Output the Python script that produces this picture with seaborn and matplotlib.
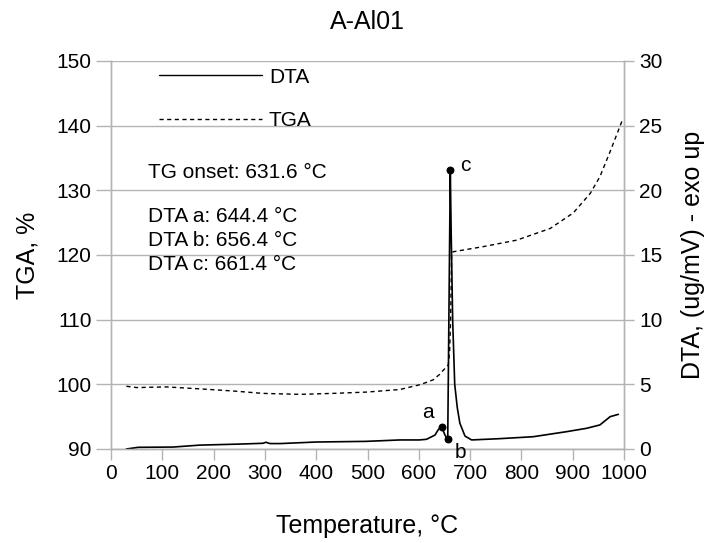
import matplotlib
matplotlib.use("Agg")
import matplotlib.pyplot as plt
import seaborn as sns
import pandas as pd
from matplotlib.lines import Line2D

# ---- data ----
dta_temp = [30, 53, 121, 173, 250, 296, 302, 310, 330, 400, 497, 563, 601, 615, 631.6, 638, 644.4, 651, 656.4,
            661.4, 663, 666, 670, 675, 680, 690, 703, 758, 823, 888, 927, 953, 973, 989]
dta_val = [0.0, 0.13, 0.15, 0.3, 0.38, 0.44, 0.52, 0.42, 0.42, 0.54, 0.59, 0.7, 0.7, 0.75, 1.08, 1.5, 1.72, 1.08, 0.75,
           21.6, 17.0, 10.0, 5.0, 3.2, 2.0, 1.0, 0.7, 0.8, 0.95, 1.34, 1.6, 1.86, 2.5, 2.68]

tga_temp = [30, 50, 108, 173, 238, 296, 368, 433, 498, 563, 600, 615, 628, 640, 648, 657.5, 660, 662, 664,
            667, 726, 791, 856, 901, 934, 953, 974, 996]
tga_val = [99.7, 99.5, 99.6, 99.3, 98.97, 98.6, 98.45, 98.6, 98.8, 99.2, 99.9, 100.3, 100.7, 101.5, 102.2, 103.0,
           105.0, 110.0, 120.3, 120.5, 121.3, 122.3, 124.1, 126.5, 129.5, 132.1, 136.2, 140.7]

peak_labels = ["a", "b", "c"]
peak_temp = [644.4, 656.4, 661.4]
peak_dta = [1.72, 0.75, 21.6]

title = "A-Al01"
info_lines = ["TG onset: 631.6 °C", "DTA a: 644.4 °C", "DTA b: 656.4 °C", "DTA c: 661.4 °C"]

# ---- style ----
sns.set_style("white")
plt.rcParams['font.family'] = ['Liberation Sans', 'DejaVu Sans']
plt.rcParams['text.color'] = 'black'
plt.rcParams['axes.labelcolor'] = 'black'
plt.rcParams['xtick.labelcolor'] = 'black'
plt.rcParams['ytick.labelcolor'] = 'black'

W, H = 707, 543
fig = plt.figure(figsize=(W / 100, H / 100), dpi=100)
ax = fig.add_axes([111 / W, 1 - 449 / H, (624 - 111) / W, (449 - 61) / H])
ax2 = ax.twinx()

grid_c = "#b3b3b3"
dash = (0, (3, 2.5))

tga_df = pd.DataFrame({"T": tga_temp, "TGA": tga_val})
dta_df = pd.DataFrame({"T": dta_temp, "DTA": dta_val})

sns.lineplot(data=tga_df, x="T", y="TGA", ax=ax, color="black", lw=1.0, sort=False,
             linestyle=dash, estimator=None)
sns.lineplot(data=dta_df, x="T", y="DTA", ax=ax2, color="black", lw=1.2, sort=False, estimator=None)
ax2.scatter(peak_temp, peak_dta, s=22, color="black", zorder=5)

label_offsets = {"a": (-10, 10), "b": (9.4, -9.4), "c": (11, 3)}
for lab, t, v in zip(peak_labels, peak_temp, peak_dta):
    dx, dy = label_offsets[lab]
    ax2.annotate(lab, (t, v), xytext=(dx, dy), textcoords="offset points", fontsize=15,
                 ha="center", va="center", color="black")

ax.set_xlim(0, 1000)
ax.set_ylim(90, 150)
ax2.set_ylim(0, 30)
ax.set_xticks(range(0, 1001, 100))
ax.set_yticks(range(90, 151, 10))
ax2.set_yticks(range(0, 31, 5))

ax.grid(axis="y", color=grid_c, lw=1.0)
ax.grid(axis="x", visible=False)
ax2.grid(False)
for a in (ax, ax2):
    for s in a.spines.values():
        s.set_color(grid_c)
        s.set_linewidth(1.0)
    a.spines["top"].set_visible(False)

ax.tick_params(axis="x", direction="out", length=8, width=1, color=grid_c, labelsize=15, pad=3, bottom=True,
               labelcolor="black")
ax.tick_params(axis="y", direction="out", length=11, width=1, color=grid_c, labelsize=15, pad=3, left=True,
               labelcolor="black")
ax2.tick_params(axis="y", direction="out", length=7, width=1, color=grid_c, labelsize=15, pad=4, right=True,
                labelcolor="black")

ax.set_xlabel("Temperature, °C", fontsize=18, labelpad=22, color="black")
ax.set_ylabel("TGA, %", fontsize=18, labelpad=12, color="black")
ax2.set_ylabel("DTA, (ug/mV) - exo up", fontsize=18, labelpad=13, color="black")
fig.text(367 / W, 1 - 22 / H, title, fontsize=18, ha="center", va="center", color="black")

# legend
handles = [Line2D([], [], color="black", lw=1.0),
           Line2D([], [], color="black", lw=1.0, linestyle=dash)]
leg = ax.legend(handles, ["DTA", "TGA"], loc="upper left", bbox_to_anchor=(140 / W, 1 - 49 / H),
                bbox_transform=fig.transFigure, frameon=False, fontsize=15, handlelength=4.95,
                labelspacing=1.17, handletextpad=0.34, labelcolor="black")

info_y = [172, 216, 241, 265]
for txt, yy in zip(info_lines, info_y):
    fig.text(148 / W, 1 - yy / H, txt, fontsize=15, ha="left", va="center", color="black")

fig.savefig("out.png", dpi=100)
